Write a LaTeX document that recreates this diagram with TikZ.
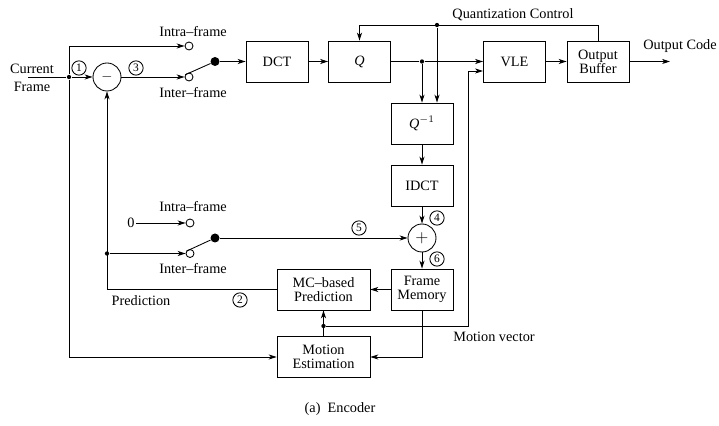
\documentclass[tikz,border=0pt]{standalone}
\usepackage{fontspec}
\setmainfont{Liberation Serif}
\usetikzlibrary{arrows.meta,calc}

\begin{document}
\begin{tikzpicture}[
    x=0.7pt, y=-0.7pt,
    line width=0.6pt,
    blk/.style={draw, rectangle, minimum width=43.4pt, minimum height=28.7pt,
                inner sep=1pt, align=center, font=\normalsize},
    wideblk/.style={blk, minimum width=65pt},
    sumnode/.style={draw, circle, minimum size=19.6pt, inner sep=0pt},
    contact/.style={draw, circle, minimum size=5.6pt, inner sep=0pt, fill=white},
    pivot/.style={circle, fill=black, minimum size=6.3pt, inner sep=0pt},
    jdot/.style={circle, fill=black, minimum size=3pt, inner sep=0pt},
    tag/.style={draw, circle, minimum size=10pt, inner sep=0pt, font=\footnotesize},
    lbl/.style={font=\normalsize, inner sep=1pt},
    arr/.style={-{Stealth[length=5.5pt, width=3.5pt, inset=1.5pt]}}
]
\useasboundingbox (0,0) rectangle (719,426);

% blocks
\node[blk] (dct)    at (277,61.5)   {DCT};
\node[blk] (quant)  at (359.5,61.5) {\textit{Q}};
\node[blk] (vle)    at (514.5,61.5) {VLE};
\node[blk] (obuf)   at (598,61.5)   {Output\\[-2pt]Buffer};
\node[blk] (iquant) at (422,123.5)  {\textit{Q}$^{-1}$};
\node[blk] (idct)   at (422,185.5)  {IDCT};
\node[blk] (fmem)   at (422,289.5)  {Frame\\[-2pt]Memory};
\node[wideblk] (mcp)  at (323.5,289.5) {MC--based\\[-2pt]Prediction};
\node[wideblk] (mest) at (323.5,357)   {Motion\\[-2pt]Estimation};

% adders
\node[sumnode] (sub) at (107,77)  {$-$};
\node[sumnode] (add) at (422,238) {\large$+$};

% switches
\node[contact] (intra1) at (189,46)    {};
\node[contact] (inter1) at (189,77)    {};
\node[pivot]   (sw1)    at (215,61.5)  {};
\node[contact] (intra2) at (190,223)   {};
\node[contact] (inter2) at (190,253.5) {};
\node[pivot]   (sw2)    at (215,238)   {};

% junctions and bends
\node[jdot] (j1) at (69,77) {};
\node[jdot] (j2) at (422,61.5) {};
\node[jdot] (j3) at (437,25) {};
\node[jdot] (j4) at (107,253.5) {};
\node[jdot] (j5) at (323.5,326) {};
\coordinate (in)    at (28,77);
\coordinate (out)   at (670,61.5);
\coordinate (qtop)  at (598,25);
\coordinate (pb)    at (107,289.5);
\coordinate (fmb)   at (422,357);
\coordinate (mv)    at (468,326);
\coordinate (vlein) at (483,71);

% texts
\node[lbl, align=center] (cur) at (32,78) {Current\\[1pt]Frame};
\node[lbl] (ia1) at (193,32)  {Intra--frame};
\node[lbl] (ie1) at (193,93)  {Inter--frame};
\node[lbl] (ia2) at (193,207) {Intra--frame};
\node[lbl] (ie2) at (193,269) {Inter--frame};
\node[lbl] (zero) at (131,223) {0};
\node[lbl] (pred) at (141,301) {Prediction};
\node[lbl] (qctl) at (513,15)  {Quantization Control};
\node[lbl] (ocode) at (680,46) {Output Code};
\node[lbl] (mvec) at (494,337) {Motion vector};
\node[lbl] (cap) at (340,409)  {(a)~~Encoder};

\node[tag] (t1) at (79,68)   {1};
\node[tag] (t3) at (136,68)  {3};
\node[tag] (t2) at (240,300) {2};
\node[tag] (t5) at (359,228) {5};
\node[tag] (t4) at (437,218) {4};
\node[tag] (t6) at (437,259) {6};

% connectors
\draw (in) -- (j1);
\draw[arr] (j1) -- (sub);
\draw[arr] (j1) |- (intra1);
\draw[arr] (j1) |- (mest);
\draw[arr] (sub) -- (inter1);
\draw (inter1.150) -- (sw1);
\draw[arr] (sw1) -- (dct);
\draw[arr] (dct) -- (quant);
\draw (quant) -- (j2);
\draw[arr] (j2) -- (vle);
\draw[arr] (j2) -- (iquant);
\draw[arr] (obuf) -- (qtop) -| (quant);
\draw[arr] (j3) -- (j3 |- iquant.north);
\draw[arr] (vle) -- (obuf);
\draw[arr] (obuf) -- (out);
\draw[arr] (iquant) -- (idct);
\draw[arr] (idct) -- (add);
\draw[arr] (add) -- (fmem);
\draw[arr] (fmem) -- (mcp);
\draw[arr] (fmem) -- (fmb) -- (mest);
\draw[arr] (mest) -- (mcp);
\draw[arr] (j5) -- (mv) |- (vlein);
\draw[arr] (mcp) -- (pb) -- (sub);
\draw[arr] (j4) -- (inter2);
\draw[arr] (zero) -- (intra2);
\draw (inter2.150) -- (sw2);
\draw[arr] (sw2) -- (add);
\end{tikzpicture}
\end{document}
